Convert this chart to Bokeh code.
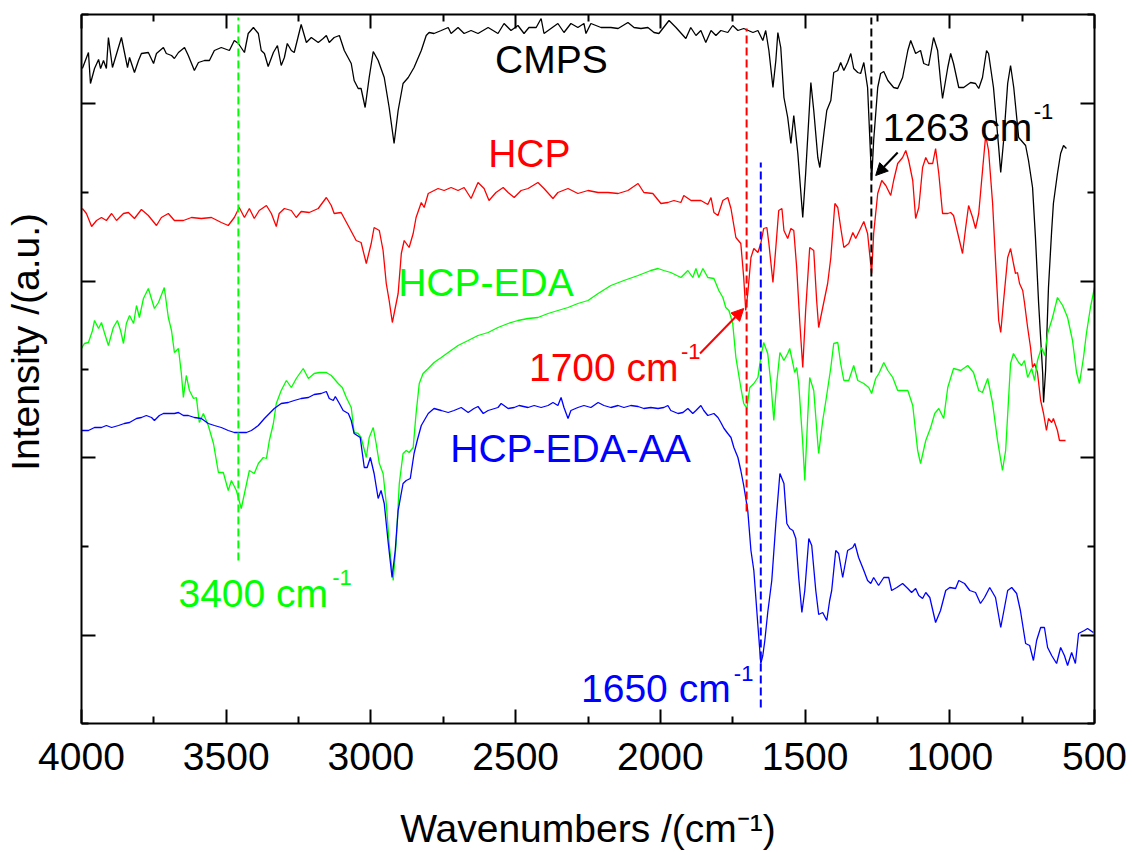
import math
from bokeh.plotting import figure
from bokeh.models import Range1d, FixedTicker, LinearAxis, Label, Arrow, NormalHead
from bokeh.embed import file_html
from bokeh.resources import INLINE

FONT = "Liberation Sans"
BLACK, RED, GREEN, BLUE = "#000000", "#FF0000", "#00FF00", "#0000FF"

# ---- data: (wavenumber cm^-1, intensity a.u.) ----
CMPS = [(3997,655),(3976,671),(3969,640),(3955,655),(3941,664),(3934,655),(3924,663),(3914,655),(3907,686),(3893,656),(3862,686),(3841,656),(3834,666),(3817,651),(3803,663),(3793,670),(3769,671),(3751,660),(3741,670),(3717,676),(3707,670),(3689,668),(3679,665),(3665,671),(3644,676),(3631,668),(3610,653),(3596,661),(3575,663),(3558,663),(3541,673),(3517,676),(3489,673),(3472,683),(3458,680),(3437,671),(3424,690),(3406,696),(3389,690),(3379,673),(3368,670),(3355,657),(3337,671),(3323,678),(3310,658),(3299,666),(3289,680),(3275,673),(3265,671),(3241,699),(3223,681),(3206,686),(3182,681),(3165,685),(3154,688),(3144,681),(3127,686),(3109,688),(3092,673),(3068,660),(3058,643),(3044,635),(3034,635),(3020,616),(3006,646),(2992,672),(2975,663),(2954,646),(2937,616),(2920,580),(2906,613),(2889,640),(2871,646),(2851,656),(2826,673),(2809,688),(2799,691),(2782,690),(2757,693),(2733,696),(2723,690),(2699,696),(2678,690),(2654,693),(2630,690),(2595,696),(2561,690),(2540,700),(2516,693),(2492,698),(2471,690),(2454,696),(2429,696),(2412,705),(2402,690),(2378,695),(2354,700),(2333,691),(2309,700),(2285,696),(2264,700),(2257,690),(2240,700),(2205,696),(2171,696),(2146,695),(2112,701),(2091,696),(2067,695),(2043,696),(2022,691),(2005,690),(1970,703),(1946,696),(1912,685),(1895,696),(1877,688),(1860,693),(1843,681),(1825,693),(1808,688),(1791,693),(1767,691),(1750,698),(1732,693),(1712,695),(1680,691),(1663,693),(1646,683),(1636,693),(1625,673),(1611,636),(1601,663),(1594,691),(1584,676),(1573,626),(1560,606),(1549,580),(1539,608),(1525,570),(1508,506),(1498,550),(1480,641),(1470,613),(1456,566),(1449,556),(1435,590),(1425,613),(1411,623),(1401,651),(1387,653),(1377,661),(1366,653),(1353,661),(1342,670),(1332,655),(1318,651),(1308,650),(1297,661),(1284,636),(1270,543),(1263,583),(1249,636),(1239,650),(1228,652),(1214,643),(1194,636),(1180,635),(1163,646),(1145,673),(1135,683),(1118,670),(1101,673),(1090,660),(1073,658),(1056,686),(1042,673),(1032,643),(1025,625),(1007,656),(997,670),(987,660),(969,636),(952,636),(928,641),(911,640),(900,635),(887,646),(873,673),(866,670),(849,636),(831,576),(824,551),(814,583),(800,640),(790,658),(779,636),(762,586),(738,578),(728,563),(714,536),(704,486),(693,420),(679,350),(676,321),(669,353),(659,436),(648,493),(642,520),(628,550),(617,570),(607,578),(597,575)]

HCP = [(3997,515),(3983,510),(3965,497),(3948,503),(3931,506),(3914,503),(3896,510),(3879,503),(3855,510),(3838,511),(3817,505),(3793,514),(3769,508),(3741,498),(3724,506),(3700,510),(3679,503),(3648,503),(3620,506),(3586,505),(3551,506),(3517,501),(3493,498),(3472,506),(3455,516),(3437,506),(3420,515),(3403,505),(3386,513),(3361,518),(3344,510),(3327,497),(3317,510),(3299,515),(3275,513),(3258,506),(3241,512),(3213,511),(3182,515),(3154,526),(3137,518),(3127,510),(3103,511),(3075,496),(3051,483),(3034,481),(3016,460),(2999,480),(2989,496),(2971,493),(2958,473),(2947,440),(2937,423),(2926,401),(2906,430),(2895,470),(2885,483),(2868,476),(2854,490),(2844,506),(2826,521),(2816,516),(2802,530),(2768,535),(2747,533),(2723,536),(2699,533),(2678,536),(2654,525),(2630,541),(2609,535),(2592,523),(2568,531),(2543,536),(2526,531),(2505,526),(2481,533),(2457,535),(2423,541),(2402,535),(2371,525),(2354,531),(2319,535),(2285,530),(2250,533),(2215,531),(2181,531),(2146,530),(2112,533),(2077,540),(2057,531),(2026,530),(1998,520),(1974,521),(1953,523),(1929,521),(1919,528),(1894,523),(1860,523),(1836,519),(1825,526),(1815,511),(1801,508),(1784,523),(1767,526),(1756,515),(1739,486),(1722,480),(1712,446),(1705,413),(1698,430),(1687,466),(1677,475),(1663,471),(1653,480),(1643,495),(1632,496),(1625,480),(1611,441),(1601,476),(1591,513),(1580,515),(1573,493),(1560,485),(1549,495),(1539,493),(1529,456),(1518,400),(1508,356),(1498,413),(1484,476),(1470,473),(1460,423),(1453,396),(1439,416),(1422,440),(1411,466),(1397,520),(1387,516),(1377,496),(1366,476),(1349,480),(1335,491),(1325,485),(1315,491),(1297,502),(1284,490),(1270,450),(1263,490),(1249,530),(1235,543),(1221,538),(1204,528),(1194,543),(1180,560),(1163,566),(1152,573),(1142,563),(1128,543),(1118,505),(1107,516),(1094,556),(1083,566),(1073,560),(1059,560),(1049,575),(1038,550),(1025,510),(1007,510),(997,511),(987,508),(969,486),(956,470),(945,496),(935,518),(921,506),(911,495),(900,510),(886,556),(876,588),(866,573),(852,520),(842,463),(831,403),(824,391),(814,423),(800,466),(790,475),(780,460),(773,450),(766,451),(759,440),(748,433),(742,421),(731,396),(721,376),(714,356),(707,360),(697,351),(686,323),(676,310),(666,293),(659,305),(648,301),(642,305),(628,293),(621,283),(600,283)]

HCP_EDA = [(4000,375),(3990,380),(3976,381),(3962,393),(3955,403),(3941,395),(3931,401),(3921,391),(3907,378),(3890,396),(3876,403),(3865,393),(3855,380),(3845,400),(3834,408),(3820,400),(3810,418),(3800,406),(3786,425),(3769,435),(3748,415),(3734,421),(3714,436),(3700,406),(3689,393),(3679,371),(3665,375),(3655,350),(3648,326),(3638,348),(3627,333),(3613,325),(3603,326),(3593,301),(3579,310),(3562,298),(3544,280),(3527,251),(3510,251),(3493,233),(3482,243),(3465,233),(3448,215),(3437,230),(3420,253),(3403,250),(3389,260),(3372,266),(3361,265),(3351,283),(3337,300),(3327,320),(3310,333),(3292,343),(3275,336),(3258,345),(3234,355),(3216,345),(3196,350),(3178,351),(3154,351),(3137,348),(3113,340),(3099,336),(3085,326),(3068,316),(3058,291),(3044,290),(3034,286),(3016,266),(3006,286),(2992,296),(2982,280),(2971,260),(2958,250),(2947,220),(2937,180),(2923,143),(2913,180),(2902,240),(2889,270),(2878,273),(2868,271),(2854,276),(2844,310),(2833,340),(2820,350),(2802,355),(2782,361),(2757,366),(2733,371),(2699,378),(2664,383),(2630,388),(2595,391),(2561,396),(2526,400),(2492,403),(2457,405),(2423,406),(2388,410),(2354,413),(2319,416),(2285,420),(2250,423),(2215,430),(2171,438),(2126,443),(2077,448),(2033,453),(2008,455),(1988,453),(1964,451),(1929,446),(1905,453),(1888,446),(1877,455),(1867,446),(1853,455),(1836,446),(1815,445),(1798,433),(1784,426),(1774,416),(1763,413),(1750,400),(1739,366),(1722,336),(1712,320),(1701,315),(1691,336),(1677,340),(1663,346),(1653,366),(1643,381),(1629,370),(1618,340),(1608,303),(1598,340),(1587,371),(1573,363),(1560,370),(1553,375),(1542,360),(1536,351),(1529,356),(1522,340),(1508,280),(1501,243),(1491,306),(1484,346),(1470,333),(1456,280),(1453,270),(1439,303),(1428,323),(1411,356),(1401,380),(1387,381),(1377,360),(1366,343),(1349,343),(1332,358),(1318,343),(1297,340),(1280,336),(1270,330),(1256,345),(1245,350),(1228,361),(1214,353),(1197,346),(1180,333),(1163,333),(1145,333),(1128,318),(1111,273),(1101,260),(1083,283),(1066,296),(1052,310),(1038,315),(1021,305),(1007,336),(987,355),(962,353),(938,358),(918,351),(900,333),(887,331),(869,345),(852,320),(835,283),(818,253),(807,273),(790,360),(780,370),(762,361),(752,358),(742,363),(731,346),(717,355),(707,343),(697,363),(683,376),(672,368),(662,390),(645,406),(628,426),(610,418),(593,406),(576,383),(562,351),(552,340),(538,366),(528,390),(514,416),(500,436)]

HCP_EDA_AA = [(4000,293),(3976,293),(3955,296),(3931,296),(3914,298),(3896,296),(3872,298),(3852,300),(3834,301),(3810,305),(3793,306),(3776,308),(3758,306),(3748,303),(3731,308),(3717,310),(3700,310),(3679,310),(3665,311),(3648,308),(3631,308),(3610,306),(3586,305),(3562,300),(3541,298),(3517,296),(3493,293),(3472,291),(3448,291),(3430,291),(3413,293),(3389,298),(3368,305),(3351,310),(3334,315),(3310,320),(3286,321),(3265,323),(3241,325),(3216,326),(3196,329),(3172,330),(3154,332),(3144,325),(3130,323),(3123,327),(3109,320),(3096,313),(3078,310),(3068,303),(3058,290),(3037,286),(3023,256),(3013,256),(3002,266),(2989,250),(2975,225),(2965,233),(2954,220),(2940,180),(2927,146),(2916,173),(2906,213),(2889,240),(2878,243),(2864,245),(2851,270),(2840,283),(2826,298),(2802,310),(2782,315),(2757,313),(2733,311),(2713,313),(2688,316),(2664,311),(2644,315),(2630,317),(2612,310),(2595,313),(2561,316),(2550,320),(2526,315),(2505,316),(2488,318),(2457,316),(2436,318),(2412,316),(2388,318),(2371,321),(2354,318),(2343,326),(2333,316),(2319,305),(2309,313),(2285,316),(2264,318),(2240,316),(2215,321),(2195,318),(2171,316),(2146,318),(2126,316),(2102,318),(2077,317),(2057,315),(2033,316),(2008,315),(1988,316),(1974,318),(1964,313),(1939,310),(1922,311),(1905,315),(1888,310),(1877,313),(1860,318),(1850,313),(1836,308),(1815,310),(1801,306),(1791,301),(1780,295),(1767,290),(1756,286),(1746,276),(1732,266),(1722,253),(1712,238),(1698,213),(1687,173),(1677,153),(1663,98),(1653,60),(1646,68),(1639,83),(1629,111),(1615,143),(1601,200),(1587,250),(1573,240),(1563,200),(1553,195),(1542,193),(1532,185),(1522,146),(1511,111),(1501,133),(1487,185),(1477,178),(1463,133),(1453,109),(1439,111),(1425,103),(1415,123),(1408,133),(1394,173),(1384,170),(1370,146),(1353,173),(1335,176),(1328,180),(1315,166),(1297,153),(1284,143),(1273,140),(1263,146),(1246,138),(1228,146),(1211,146),(1201,133),(1183,136),(1163,140),(1145,135),(1132,131),(1118,135),(1107,128),(1094,125),(1083,131),(1069,126),(1049,101),(1032,113),(1014,133),(1000,136),(980,135),(969,143),(949,140),(931,133),(911,131),(894,120),(880,126),(862,136),(842,126),(824,96),(811,116),(800,133),(786,136),(769,130),(756,113),(738,80),(724,78),(711,63),(700,83),(686,96),(673,96),(662,76),(648,68),(631,60),(617,76),(604,68),(593,58),(579,71),(566,60),(555,90),(535,93),(524,95),(504,91)]

SERIES = [("CMPS", CMPS, BLACK), ("HCP", HCP, RED), ("HCP-EDA", HCP_EDA, GREEN), ("HCP-EDA-AA", HCP_EDA_AA, BLUE)]

# marker lines: wavenumber, low, high, colour
VLINE_WN = [3458, 1702, 1653, 1271]
VLINE_LO = [163, 212, 16, 351]
VLINE_HI = [706, 695, 561, 706]
VLINE_COLOR = [GREEN, RED, BLUE, BLACK]

# annotations: text, wavenumber, intensity, colour, font size
ANNOT = [
    ("CMPS", 2571, 664, BLACK, 39),
    ("HCP", 2595, 570, RED, 39),
    ("HCP-EDA", 2906, 441, GREEN, 39),
    ("HCP-EDA-AA", 2726, 275, BLUE, 39),
    ("1700 cm", 2454, 356, RED, 39), ("-1", 1929, 372, RED, 22),
    ("1650 cm", 2274, 35, BLUE, 39), ("-1", 1746, 50, BLUE, 22),
    ("3400 cm", 3665, 130, GREEN, 39), ("-1", 3134, 146, GREEN, 22),
    ("1263 cm", 1232, 596, BLACK, 39), ("-1", 710, 612, BLACK, 22),
]
ARROWS = [((1863, 370), (1712, 415), RED), ((1180, 571), (1256, 548), BLACK)]

X_MAJOR = [4000, 3500, 3000, 2500, 2000, 1500, 1000, 500]
X_MINOR = [3750, 3250, 2750, 2250, 1750, 1250, 750]
Y_MAJOR = [88, 266, 442, 620]
Y_MINOR = [0, 177, 354, 531, 709]

X_TITLE = "Wavenumbers /(cm\u207b\u00b9)"
Y_TITLE = "\u00a0" * 5 + "Intensity /(a.u.)"

p = figure(width=1132, height=852, x_range=Range1d(4000, 500), y_range=Range1d(0, 709),
           output_backend="svg", toolbar_location=None,
           min_border_left=80, min_border_right=38, min_border_top=14, min_border_bottom=129)
p.xgrid.visible = False
p.ygrid.visible = False
p.outline_line_color = None
p.background_fill_color = "white"
p.border_fill_color = "white"

p.add_layout(LinearAxis(), "above")
p.add_layout(LinearAxis(), "right")

xt = FixedTicker(ticks=X_MAJOR, minor_ticks=X_MINOR)
yt = FixedTicker(ticks=Y_MAJOR, minor_ticks=Y_MINOR)
for ax in p.axis:
    ax.axis_line_width = 2
    ax.axis_line_color = "black"
    ax.major_tick_line_width = 2
    ax.minor_tick_line_width = 2
    ax.major_tick_in = 14
    ax.major_tick_out = 0
    ax.minor_tick_in = 7
    ax.minor_tick_out = 0
    ax.major_label_text_font_size = "1px"
    ax.major_label_text_color = None
    ax.major_label_standoff = 0
for ax in p.xaxis:
    ax.ticker = xt
for ax in p.yaxis:
    ax.ticker = yt

bx = p.below[0]
bx.major_label_text_font_size = "39px"
bx.major_label_text_font = FONT
bx.major_label_text_color = "black"
bx.major_label_standoff = 19
bx.axis_label = X_TITLE
bx.axis_label_text_font = FONT
bx.axis_label_text_font_size = "39px"
bx.axis_label_text_font_style = "normal"
bx.axis_label_text_color = "black"
bx.axis_label_standoff = 34

ly = p.left[0]
ly.axis_label = Y_TITLE
ly.axis_label_text_font = FONT
ly.axis_label_text_font_size = "39px"
ly.axis_label_text_font_style = "normal"
ly.axis_label_text_color = "black"
ly.axis_label_standoff = 35

for name, pts, col in SERIES:
    xs = [a for a, b in pts]
    ys = [b for a, b in pts]
    p.line(xs, ys, line_color=col, line_width=1.3)

p.segment(x0=VLINE_WN, y0=VLINE_LO, x1=VLINE_WN, y1=VLINE_HI, line_color=VLINE_COLOR,
          line_width=2, line_dash="8 4")

for (xs, ys), (xe, ye), col in ARROWS:
    p.add_layout(Arrow(x_start=xs, y_start=ys, x_end=xe, y_end=ye, line_color=col, line_width=2,
                       end=NormalHead(size=12, fill_color=col, line_color=col)))

for txt, x, y, col, sz in ANNOT:
    p.add_layout(Label(x=x, y=y, text=txt, text_color=col, text_font=FONT,
                       text_font_size=f"{sz}px", text_align="left", text_baseline="alphabetic"))

open("out.html", "w").write(file_html(p, INLINE))
